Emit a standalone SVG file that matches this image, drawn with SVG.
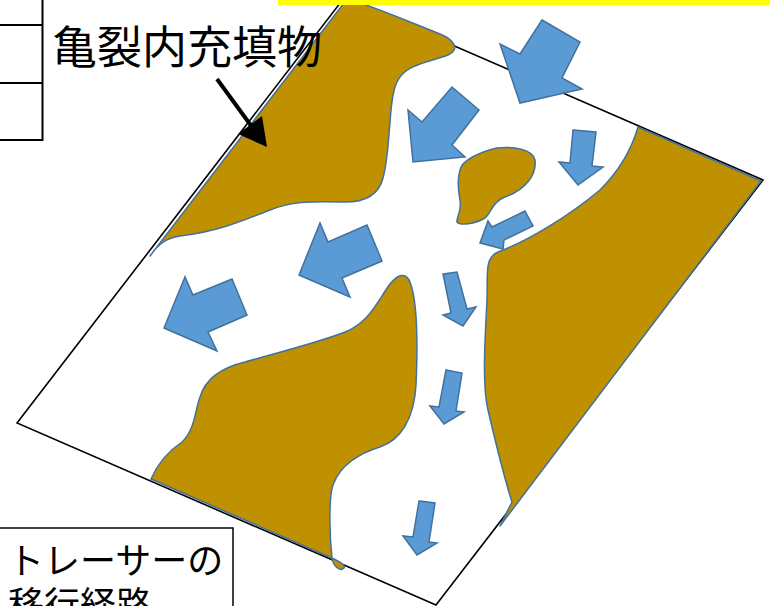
<svg xmlns="http://www.w3.org/2000/svg" width="770" height="606" viewBox="0 0 770 606">
  <style>
    .fill { fill: #BF9000; stroke: #41719C; stroke-width: 1.5; stroke-linejoin: round; }
    .flow { fill: #5B9BD5; stroke: #41719C; stroke-width: 1.5; stroke-linejoin: miter; }
    .frame { fill: none; stroke: #000; stroke-width: 1.6; }
    .jp { font-family: "Noto Sans CJK JP", "Noto Sans", sans-serif; fill: #000; }
  </style>
  <rect width="770" height="606" fill="#fff"/>

  <!-- table edge at upper left -->
  <g id="table" stroke="#000" stroke-width="2" fill="none">
    <line x1="42.5" y1="0" x2="42.5" y2="141"/>
    <line x1="0" y1="25" x2="43" y2="25"/>
    <line x1="0" y1="83" x2="43" y2="83"/>
    <line x1="0" y1="140" x2="43" y2="140"/>
  </g>

  <!-- fracture plane -->
  <g id="plane">
    <polygon class="frame" points="344,-2 763,180 436,605 17,423" fill="#fff"/>
  </g>

  <!-- filling material patches -->
  <g id="filling">
    <path class="fill" d="M347,-1 C362,2 400,18 440,34 C455,40 460,50 448,55 C430,62 405,64 397,82 C388,100 391,150 383,178 C378,198 360,203 340,202 C310,201 290,202 270,210 C240,222 215,232 180,236 C165,238 157,246 150,256 Z"/>
    <path class="fill" d="M638,127 L761,181 L500,526 L512,502 C505,480 495,440 488,410 C482,385 485,340 487,300 C488,275 484,258 498,252 C530,240 570,215 600,190 C620,170 632,148 638,127 Z"/>
    <path class="fill" d="M460,170 C462,160 480,152 497,148 C515,146 533,150 535,160 C537,175 525,190 505,197 C492,202 492,212 485,218 C475,224 460,226 457,222 C456,218 462,212 460,200 C458,190 457,180 460,170 Z"/>
    <path class="fill" d="M151,479 C158,463 170,450 182,442 C195,430 195,410 200,397 C205,380 220,368 245,362 C280,352 320,342 345,332 C370,322 378,300 390,284 C398,274 406,272 410,282 C417,300 418,340 416,385 C414,420 400,440 380,447 C360,453 340,465 333,485 C328,500 330,540 332,558 C333,566 340,572 344,568 C346,565 340,562 334,559 Z"/>
  </g>

  <!-- tracer migration arrows -->
  <g id="flows">
    <polygon class="flow" points="542,20 580,42 562,78 582,89 520,103 500,44 520,54"/>
    <polygon class="flow" points="452,87 479,110 452,145 465,157 413,162 408,110 422,122"/>
    <polygon class="flow" points="573,130 596,132 592,166 603,167 578,185 559,162 570,163"/>
    <polygon class="flow" points="525,211 533,226 504,240 503,249 480,243 488,221 492,227"/>
    <polygon class="flow" points="299,275 320,223 328,242 367,225 382,261 342,278 350,297"/>
    <polygon class="flow" points="164,328 185,277 193,295 232,279 247,315 208,332 217,351"/>
    <polygon class="flow" points="443,274 457,272 467,309 476,307 463,326 443,315 451,313"/>
    <polygon class="flow" points="446,370 462,373 456,411 464,412 444,424 430,406 439,407"/>
    <polygon class="flow" points="419,501 435,503 429,542 437,543 417,555 403,536 413,537"/>
  </g>

  <!-- highlight bar along the top -->
  <rect id="bar" x="278" y="0" width="492" height="5" fill="#FFFF00"/>

  <!-- label for the filling -->
  <g id="label-filling">
    <text class="jp" x="52" y="64" font-size="45">亀裂内充填物</text>
  </g>
  <g id="connectors">
    <line x1="217" y1="79" x2="252" y2="127" stroke="#000" stroke-width="4"/>
    <polygon points="238,134 267,147 262,116" fill="#000"/>
  </g>

  <!-- label for the tracer path -->
  <g id="label-path">
    <rect x="-1" y="528" width="234" height="100" fill="#fff" stroke="#000" stroke-width="1.5"/>
    <text class="jp" font-size="36">
      <tspan x="8" y="574">トレーサーの</tspan>
      <tspan x="8" y="618">移行経路</tspan>
    </text>
  </g>
</svg>
